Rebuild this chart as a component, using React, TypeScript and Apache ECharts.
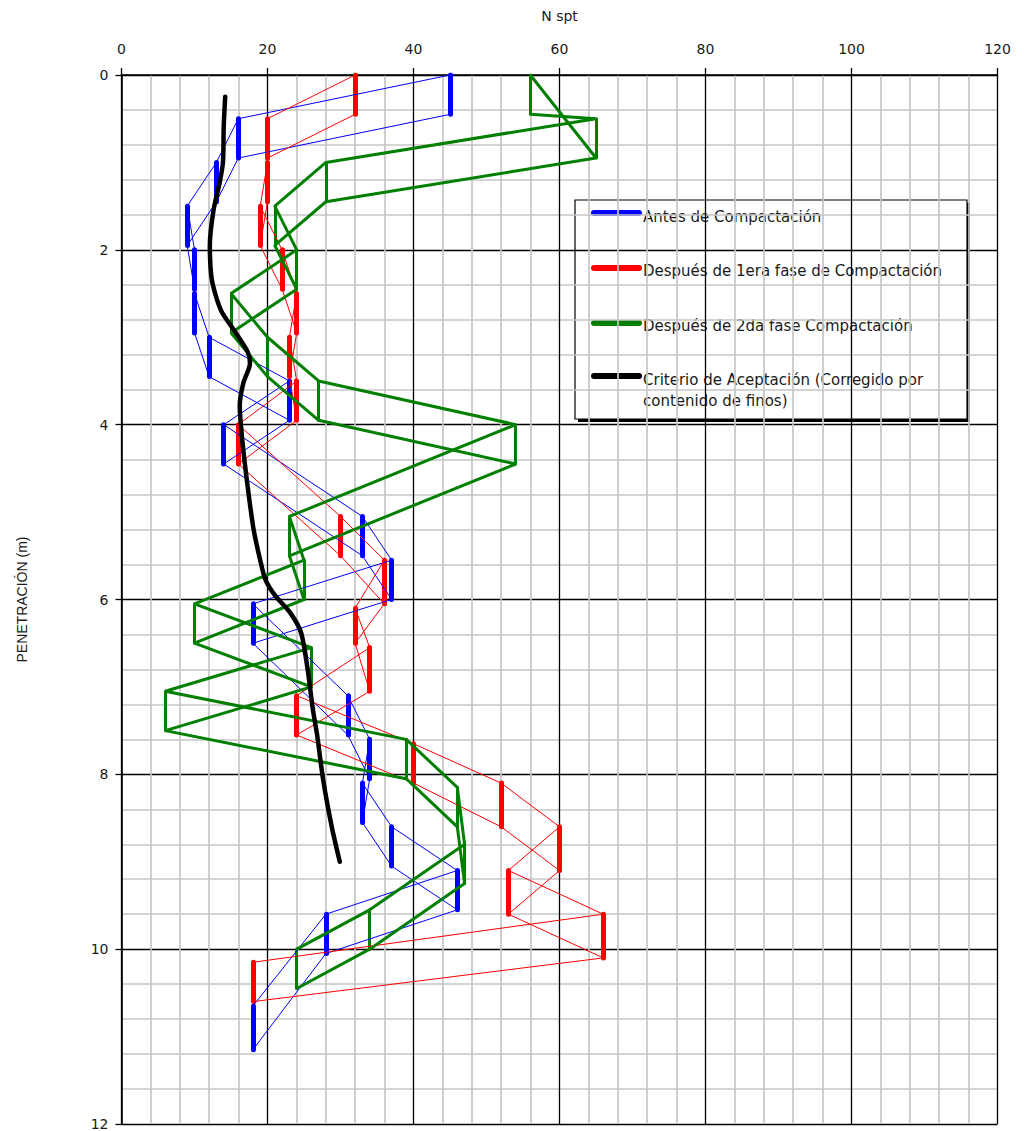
import React, { useEffect, useRef } from "react";
import * as echarts from "echarts";

// Series names (legend order)
const SERIES_NAMES = [
  "Antes de Compactación",
  "Después de 1era fase de Compactación",
  "Después de 2da fase Compactación",
  "Criterio de Aceptación (Corregido por contenido de finos)",
];

// SPT tests: [N spt, depth at connector A (m), depth at connector B (m)]
// Each test is drawn as a vertical bar between the two depths; connector A
// joins the A-ends of consecutive tests, connector B the B-ends.
const antes: number[][] = [
  [45, 0, 0.45],
  [16, 0.5, 0.95],
  [13, 1.0, 1.45],
  [9, 1.5, 1.95],
  [10, 2.0, 2.45],
  [10, 2.5, 2.95],
  [12, 3.0, 3.45],
  [23, 3.5, 3.95],
  [14, 4.0, 4.45],
  [33, 5.05, 5.5],
  [37, 5.55, 6.0],
  [18, 6.05, 6.5],
  [31, 7.1, 7.55],
  [34, 7.6, 8.05],
  [33, 8.1, 8.55],
  [37, 8.6, 9.05],
  [46, 9.1, 9.55],
  [28, 9.6, 10.05],
  [18, 10.65, 11.15],
];

const fase1: number[][] = [
  [32, 0, 0.45],
  [20, 0.5, 0.95],
  [20, 1.0, 1.45],
  [19, 1.5, 1.95],
  [22, 2.0, 2.45],
  [24, 2.5, 2.95],
  [23, 3.0, 3.45],
  [24, 3.5, 3.95],
  [16, 4.0, 4.45],
  [30, 5.05, 5.5],
  [36, 5.55, 6.05],
  [32, 6.1, 6.5],
  [34, 6.55, 7.05],
  [24, 7.1, 7.55],
  [40, 7.65, 8.1],
  [52, 8.1, 8.6],
  [60, 8.6, 9.1],
  [53, 9.1, 9.6],
  [66, 9.6, 10.1],
  [18, 10.15, 10.6],
];

const fase2: number[][] = [
  [56, 0.45, 0],
  [65, 0.5, 0.95],
  [28, 1.0, 1.45],
  [21, 1.5, 1.95],
  [24, 2.0, 2.45],
  [15, 2.5, 2.95],
  [20, 3.0, 3.45],
  [27, 3.5, 3.95],
  [54, 4.0, 4.45],
  [23, 5.05, 5.5],
  [25, 5.55, 6.0],
  [10, 6.05, 6.5],
  [26, 6.55, 7.0],
  [6, 7.05, 7.5],
  [39, 7.6, 8.05],
  [46, 8.15, 8.6],
  [47, 8.8, 9.25],
  [34, 9.55, 10.0],
  [24, 10.0, 10.45],
];

// Acceptance criterion: [N spt, depth (m)]
const criterio: number[][] = [
  [14.2, 0.25],
  [14.0, 0.6],
  [13.9, 1.0],
  [13.4, 1.25],
  [12.6, 1.55],
  [12.1, 1.95],
  [12.3, 2.3],
  [12.9, 2.52],
  [13.8, 2.72],
  [15.5, 2.93],
  [17.3, 3.17],
  [17.6, 3.3],
  [16.7, 3.52],
  [16.2, 3.78],
  [16.4, 4.05],
  [16.9, 4.45],
  [17.5, 4.85],
  [18.1, 5.2],
  [19.0, 5.55],
  [19.7, 5.77],
  [21.0, 5.95],
  [23.1, 6.15],
  [24.6, 6.38],
  [25.5, 6.8],
  [26.2, 7.25],
  [26.8, 7.55],
  [27.6, 8.05],
  [28.8, 8.6],
  [29.9, 9.0],
];

const X_TICKS = { min: 0, max: 120, interval: 20 };
const Y_TICKS = { min: 0, max: 12, interval: 2 };

const BLUE = "#0000ff";
const RED = "#ff0000";
const GREEN = "#007f00";
const BLACK = "#000000";

const TEXT = "#1a1a1a";
const FONT = "DejaVu Sans";

function testSeries(name: string, tests: number[][], color: string, barWidth: number, linkWidth: number) {
  const bars = tests.map((t) => ({ coords: [[t[0], t[1]], [t[0], t[2]]] }));
  const linkA = tests.map((t) => [t[0], t[1]]);
  const linkB = tests.map((t) => [t[0], t[2]]);
  const link = (data: number[][]) => ({
    type: "line",
    name,
    data,
    showSymbol: false,
    symbol: "none",
    lineStyle: { color, width: linkWidth, opacity: 1 },
    itemStyle: { color },
  });
  return [
    link(linkA),
    link(linkB),
    {
      type: "lines",
      name,
      coordinateSystem: "cartesian2d",
      data: bars,
      lineStyle: { color, width: barWidth, opacity: 1, cap: "round" },
    },
  ];
}

function legendGraphic() {
  const colors = [BLUE, RED, GREEN, BLACK];
  const iconY = [213, 268, 323, 376];
  const textY = [217, 271, 326, 380];
  const children: any[] = [
    { type: "rect", shape: { x: 578, y: 203, width: 392, height: 219 }, style: { fill: "#000" } },
    {
      type: "rect",
      shape: { x: 575, y: 200, width: 392, height: 219 },
      style: { fill: "#fff", stroke: "#000", lineWidth: 1.2 },
    },
  ];
  colors.forEach((c, i) => {
    children.push({
      type: "line",
      shape: { x1: 594, y1: iconY[i], x2: 639, y2: iconY[i] },
      style: { stroke: c, lineWidth: 6, lineCap: "round" },
    });
  });
  const labels = [
    SERIES_NAMES[0],
    SERIES_NAMES[1],
    SERIES_NAMES[2],
    "Criterio de Aceptación (Corregido por",
    "contenido de finos)",
  ];
  const ys = [...textY, 401];
  labels.forEach((t, i) => {
    children.push({
      type: "text",
      x: 643,
      y: ys[i],
      style: {
        text: t,
        fill: TEXT,
        font: `15px "${FONT}"`,
        verticalAlign: "middle",
        align: "left",
      },
    });
  });
  return { type: "group", children };
}

export default function App() {
  const ref = useRef<HTMLDivElement>(null);

  useEffect(() => {
    if (!ref.current) return;
    const chart = echarts.init(ref.current, undefined, { renderer: "svg" });

    const axisCommon = {
      axisLine: { show: true, onZero: false, lineStyle: { color: "#000", width: 1.6 } },
      axisTick: { show: true, inside: false, lineStyle: { color: "#000", width: 1.3 } },
      splitLine: { show: true, lineStyle: { color: "#000", width: 1.3 } },
      minorTick: { show: false, splitNumber: 5 },
      minorSplitLine: { show: true, lineStyle: { color: "#c6c6c6", width: 1.7 } },
    };

    chart.setOption({
      animation: false,
      backgroundColor: "#fff",
      grid: { left: 121.5, top: 75, width: 876, height: 1050, containLabel: false },
      xAxis: {
        type: "value",
        position: "top",
        ...X_TICKS,
        name: "N spt",
        nameLocation: "middle",
        nameGap: 52,
        nameTextStyle: { fontFamily: FONT, fontSize: 14, color: TEXT },
        ...axisCommon,
        axisTick: { ...axisCommon.axisTick, length: 7 },
        axisLabel: { margin: 19, fontFamily: FONT, fontSize: 14, color: TEXT },
      },
      yAxis: {
        type: "value",
        inverse: true,
        ...Y_TICKS,
        name: "PENETRACIÓN (m)",
        nameLocation: "middle",
        nameGap: 93,
        nameTextStyle: { fontFamily: "Liberation Sans", fontSize: 14, color: TEXT },
        ...axisCommon,
        axisTick: { ...axisCommon.axisTick, length: 6 },
        axisLabel: { margin: 13, fontFamily: FONT, fontSize: 14, color: TEXT },
      },
      graphic: [legendGraphic()],
      series: [
        ...testSeries(SERIES_NAMES[0], antes, BLUE, 5, 1),
        ...testSeries(SERIES_NAMES[1], fase1, RED, 5, 1),
        ...testSeries(SERIES_NAMES[2], fase2, GREEN, 3, 3),
        {
          type: "line",
          name: SERIES_NAMES[3],
          data: criterio,
          smooth: 0.25,
          showSymbol: false,
          symbol: "none",
          lineStyle: { color: BLACK, width: 4.5, cap: "round", join: "round" },
          itemStyle: { color: BLACK },
        },
      ],
    });

    return () => chart.dispose();
  }, []);

  return (
    <div
      ref={ref}
      style={{ position: "fixed", left: 0, top: 0, width: 1024, height: 1131, background: "#fff" }}
    />
  );
}
